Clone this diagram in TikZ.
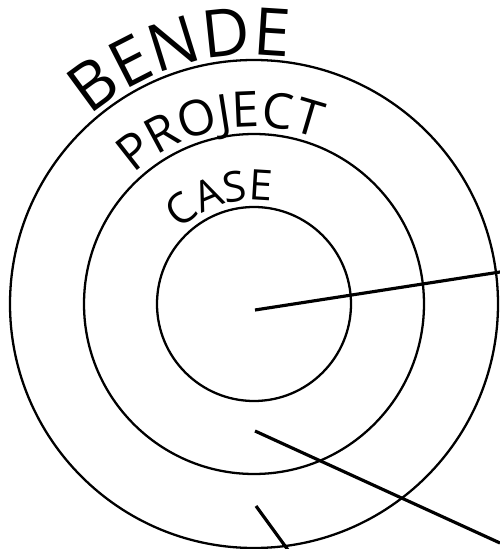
\documentclass[tikz,border=0pt]{standalone}
\usepackage{fontspec}
\setmainfont{Open Sans}
\usetikzlibrary{decorations.text}
\tikzset{
  ring/.style={circle, draw=black, line width=1.3pt, inner sep=0pt, outer sep=0pt},
  ray/.style={draw=black, line width=1.8pt},
  arctxt/.style={decorate, decoration={text along path, text align=center, text={#1}}},
}
\begin{document}
\begin{tikzpicture}[x=0.02cm, y=0.02cm]
\useasboundingbox (0,0) rectangle (500,549);
\clip (0,0) rectangle (500,549);
\coordinate (c) at (254,245);

% ============================ rings ==============================
\foreach \i/\r in {1/244, 2/170, 3/97}
  \node[ring, minimum size={2*\r*0.02cm}] (ring\i) at (c) {};

% ============================ ring labels ========================
\path[arctxt={|\fontsize{37.5}{37.5}\selectfont|BENDE}]
  (c) ++(151.6:249) arc[start angle=151.6, end angle=61.6, radius=249];
\path[arctxt={|\fontsize{28}{28}\selectfont|PROJECT}]
  (c) ++(146:177) arc[start angle=146, end angle=56, radius=177];
\path[arctxt={|\fontsize{24}{24}\selectfont|CASE}]
  (c) ++(152.5:104) arc[start angle=152.5, end angle=62.5, radius=104];

% ============================ rays ===============================
\coordinate (o1) at (255,239); \coordinate (e1) at (500,277);
\coordinate (o2) at (255,118); \coordinate (e2) at (500,6);
\coordinate (o3) at (256,43);  \coordinate (e3) at (288,-1);
\foreach \i in {1,2,3}
  \draw[ray] (o\i) -- (e\i);

\end{tikzpicture}
\end{document}
